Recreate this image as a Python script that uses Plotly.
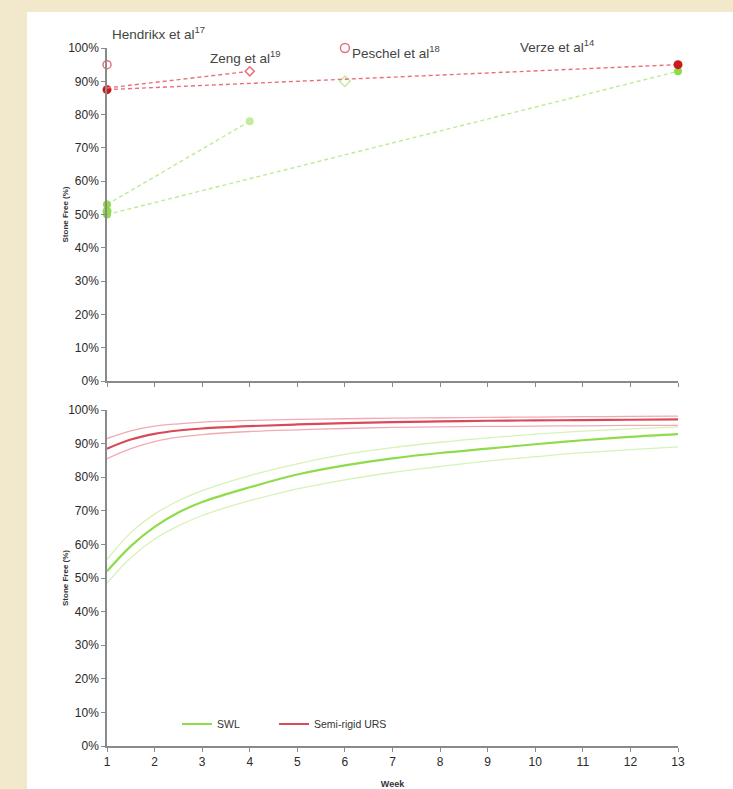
import plotly.graph_objects as go

# ---------------- data ----------------
weeks_axis = list(range(1, 14))
pct_ticks = list(range(0, 101, 10))
pct_labels = [f"{v}%" for v in pct_ticks]

# top panel: published studies
zeng_weeks = [1, 4]
zeng_urs = [88, 93]
zeng_swl = [53, 78]

verze_weeks = [1, 13]
verze_urs = [87.5, 95]
verze_swl = [50, 93]

hendrikx_week = [1]
hendrikx_urs = [95]
hendrikx_swl = [51]

peschel_week = [6]
peschel_urs = [100]
peschel_swl = [90]

study_labels = ["Hendrikx et al<sup>17</sup>", "Zeng et al<sup>19</sup>",
                "Peschel et al<sup>18</sup>", "Verze et al<sup>14</sup>"]
label_x = [1.06, 3.12, 6.1, 9.64]
label_y = [104.5, 97.3, 98.8, 100.6]

y_title = "<b>Stone Free (%)</b>"
x_title = "<b>Week</b>"

# bottom panel: modelled curves
curve_weeks = [1, 1.5, 2, 2.5, 3, 4, 5, 6, 7, 8, 9, 10, 11, 12, 13]
urs_upper = [91.5, 93.8, 95.2, 95.9, 96.4, 96.9, 97.2, 97.4, 97.6, 97.7, 97.8, 97.9, 98.0, 98.1, 98.2]
urs_main = [88.5, 91.2, 92.9, 93.9, 94.5, 95.2, 95.7, 96.1, 96.4, 96.6, 96.8, 96.9, 97.0, 97.1, 97.2]
urs_lower = [85.5, 88.5, 90.6, 91.9, 92.7, 93.6, 94.1, 94.5, 94.8, 95.0, 95.1, 95.2, 95.3, 95.4, 95.4]
swl_upper = [55.5, 63.5, 69, 73, 76, 80.5, 84, 86.8, 88.8, 90.4, 91.7, 92.8, 93.7, 94.4, 95]
swl_main = [52, 59.5, 65.2, 69.5, 72.6, 77, 80.8, 83.5, 85.6, 87.2, 88.5, 89.8, 91, 92, 92.8]
swl_lower = [48.5, 56, 61.6, 65.5, 68.6, 73, 76.5, 79.2, 81.4, 83.2, 84.8, 86.1, 87.3, 88.2, 89]

# ---------------- styles ----------------
RED = "#d94a58"
RED_DASH = "#e8707c"
RED_BAND = "#f2aab2"
GREEN = "#8edc4a"
GREEN_DASH = "#bdeb92"
GREEN_BAND = "#d6f2b8"
FONT = "Liberation Sans, Arial, sans-serif"
BEIGE = "#f2e8cc"
DASH = "4px,3px"

fig = go.Figure()

# ---- top panel lines ----
fig.add_trace(go.Scatter(x=verze_weeks, y=verze_swl, mode="lines+markers",
                         line=dict(color=GREEN_DASH, width=1.4, dash=DASH),
                         marker=dict(color=GREEN, size=8), showlegend=False,
                         cliponaxis=False, xaxis="x", yaxis="y"))
fig.add_trace(go.Scatter(x=zeng_weeks, y=zeng_swl, mode="lines+markers",
                         line=dict(color=GREEN_DASH, width=1.4, dash=DASH),
                         marker=dict(color=[GREEN, "#c4ec9c"], size=8), showlegend=False,
                         cliponaxis=False, xaxis="x", yaxis="y"))
fig.add_trace(go.Scatter(x=hendrikx_week, y=hendrikx_swl, mode="markers",
                         marker=dict(color=GREEN, size=9), showlegend=False,
                         cliponaxis=False, xaxis="x", yaxis="y"))
fig.add_trace(go.Scatter(x=peschel_week, y=peschel_swl, mode="markers",
                         marker=dict(color="white", size=8, symbol="diamond",
                                     line=dict(color="#c4ec9c", width=1.5)),
                         showlegend=False, cliponaxis=False, xaxis="x", yaxis="y"))

fig.add_trace(go.Scatter(x=verze_weeks, y=verze_urs, mode="lines+markers",
                         line=dict(color=RED_DASH, width=1.4, dash=DASH),
                         marker=dict(color="#cc1a1a", size=9), showlegend=False,
                         cliponaxis=False, xaxis="x", yaxis="y"))
fig.add_trace(go.Scatter(x=zeng_weeks, y=zeng_urs, mode="lines",
                         line=dict(color=RED_DASH, width=1.4, dash=DASH),
                         showlegend=False, cliponaxis=False, xaxis="x", yaxis="y"))
fig.add_trace(go.Scatter(x=zeng_weeks[1:], y=zeng_urs[1:], mode="markers",
                         marker=dict(color="white", size=7, symbol="diamond",
                                     line=dict(color=RED_DASH, width=1.5)),
                         showlegend=False, cliponaxis=False, xaxis="x", yaxis="y"))
fig.add_trace(go.Scatter(x=hendrikx_week, y=hendrikx_urs, mode="markers",
                         marker=dict(color="white", size=8, symbol="circle",
                                     line=dict(color=RED_DASH, width=1.5)),
                         showlegend=False, cliponaxis=False, xaxis="x", yaxis="y"))
fig.add_trace(go.Scatter(x=peschel_week, y=peschel_urs, mode="markers",
                         marker=dict(color="white", size=9, symbol="circle",
                                     line=dict(color=RED_DASH, width=1.5)),
                         showlegend=False, cliponaxis=False, xaxis="x", yaxis="y"))

# ---- bottom panel curves ----
for yv, col, w in [(swl_upper, GREEN_BAND, 1.3), (swl_lower, GREEN_BAND, 1.3),
                   (urs_upper, RED_BAND, 1.3), (urs_lower, RED_BAND, 1.3)]:
    fig.add_trace(go.Scatter(x=curve_weeks, y=yv, mode="lines",
                             line=dict(color=col, width=w, shape="spline"),
                             showlegend=False, hoverinfo="skip",
                             xaxis="x2", yaxis="y2"))
fig.add_trace(go.Scatter(x=curve_weeks, y=swl_main, mode="lines", name="SWL",
                         line=dict(color=GREEN, width=2.2, shape="spline"),
                         legend="legend", xaxis="x2", yaxis="y2"))
fig.add_trace(go.Scatter(x=curve_weeks, y=urs_main, mode="lines", name="Semi-rigid URS",
                         line=dict(color=RED, width=2.2, shape="spline"),
                         legend="legend2", xaxis="x2", yaxis="y2"))

# ---- annotations ----
annotations = []
for t, xx, yy in zip(study_labels, label_x, label_y):
    annotations.append(dict(text=t, x=(xx - 1) / 12, y=yy / 100,
                            xref="x domain", yref="y domain",
                            xanchor="left", yanchor="middle", showarrow=False,
                            font=dict(family=FONT, size=13.5, color="#444")))
# y-axis titles (as rotated text beside each panel)
for yref in ["y domain", "y2 domain"]:
    annotations.append(dict(text=y_title, x=-42 / 571, y=0.5,
                            xref="x domain", yref=yref, textangle=-90,
                            xanchor="center", yanchor="middle", showarrow=False,
                            font=dict(family=FONT, size=8, color="#333")))

axis_common = dict(showline=True, linecolor="#8a8a8a", linewidth=1.5,
                   ticks="outside", tickcolor="#8a8a8a", ticklen=4,
                   showgrid=False, zeroline=False, automargin=False,
                   tickfont=dict(family=FONT, size=12, color="#2a2a2a"))

legend_common = dict(orientation="h", xanchor="left", yanchor="middle",
                     bgcolor="rgba(0,0,0,0)", itemwidth=30,
                     font=dict(family=FONT, size=10.5, color="#333"))

W, H = 733, 789
xdom = [107 / W, 678 / W]
fig.update_layout(
    width=W, height=H,
    margin=dict(l=0, r=0, t=0, b=0, autoexpand=False),
    paper_bgcolor=BEIGE,
    plot_bgcolor="rgba(0,0,0,0)",
    shapes=[dict(type="rect", xref="paper", yref="paper",
                 x0=27 / W, x1=1, y0=0, y1=1 - 12 / H,
                 fillcolor="white", line=dict(width=0), layer="below")],
    annotations=annotations,
    showlegend=True,
    legend=dict(x=177 / W, y=1 - 724 / H, **legend_common),
    legend2=dict(x=274 / W, y=1 - 724 / H, **legend_common),
    xaxis=dict(domain=xdom, range=[1, 13], tickvals=weeks_axis,
               showticklabels=False, anchor="y", **axis_common),
    yaxis=dict(domain=[1 - 381 / H, 1 - 48 / H], range=[0, 100],
               tickvals=pct_ticks, ticktext=pct_labels, anchor="x",
               **axis_common),
    xaxis2=dict(domain=xdom, range=[1, 13], tickvals=weeks_axis, anchor="y2",
                title=dict(text=x_title, standoff=13,
                           font=dict(family=FONT, size=9, color="#333")),
                **axis_common),
    yaxis2=dict(domain=[1 - 746 / H, 1 - 410 / H], range=[0, 100],
                tickvals=pct_ticks, ticktext=pct_labels, anchor="x2",
                **axis_common),
)

fig.write_html("out.html",
               config={"displayModeBar": False, "responsive": False},
               post_script="document.documentElement.style.margin='0px';"
                           "document.documentElement.style.overflow='hidden';"
                           "document.body.style.margin='0px';"
                           "document.body.style.overflow='hidden';"
                           "document.body.style.background='" + BEIGE + "';")
